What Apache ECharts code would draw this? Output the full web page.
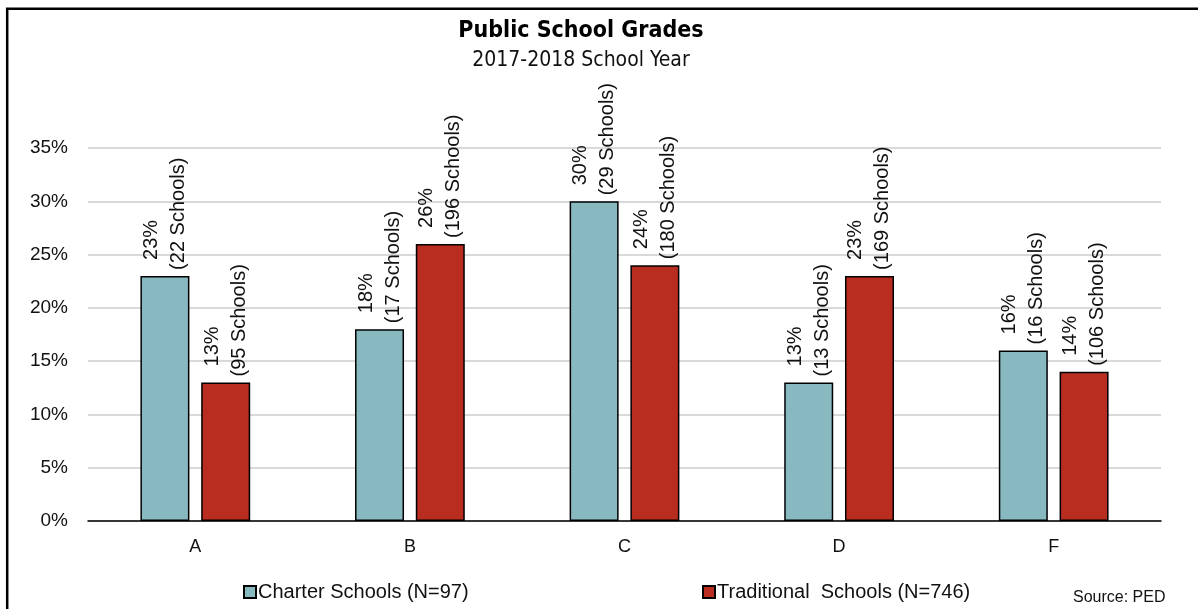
<!DOCTYPE html>
<html>
<head>
<meta charset="utf-8">
<title>Public School Grades</title>
<script src="https://cdn.jsdelivr.net/npm/echarts@6/dist/echarts.min.js"></script>
<style>
  html, body { margin: 0; padding: 0; background: #ffffff; }
  #chart { width: 1198px; height: 609px; }
</style>
</head>
<body>
<div id="chart"></div>
<script>
// Letter grades along the x axis
const grades = ['A', 'B', 'C', 'D', 'F'];

// Share of schools (%) receiving each grade
const charterPct = [23, 18, 30, 13, 16];
const traditionalPct = [13, 26, 24, 23, 14];

// Number of schools receiving each grade
const charterCount = [22, 17, 29, 13, 16];
const traditionalCount = [95, 196, 180, 169, 106];

// Y axis range and step (percent)
const yMax = 35;
const yStep = 5;

const seriesNames = ['Charter Schools (N=97)', 'Traditional  Schools (N=746)'];

const sansFont = '"Liberation Sans", Arial, sans-serif';
const narrowFont = '"Liberation Sans Narrow", "DejaVu Sans Condensed", "Liberation Sans", sans-serif';

function barLabel(counts) {
  return {
    show: true,
    position: 'top',
    rotate: 90,
    align: 'left',
    verticalAlign: 'middle',
    distance: 6,
    fontFamily: sansFont,
    fontSize: 20,
    lineHeight: 27,
    color: '#111111',
    formatter: function (p) {
      return '{pct|' + p.value + '%}\n{cnt|(' + counts[p.dataIndex] + ' Schools)}';
    },
    rich: {
      pct: { fontFamily: sansFont, fontSize: 20, lineHeight: 27, color: '#111111', padding: [0, 0, 0, 10] },
      cnt: { fontFamily: sansFont, fontSize: 20, lineHeight: 27, color: '#111111' }
    }
  };
}

function legendBlock(name, left) {
  return {
    data: [name],
    left: left,
    top: 582,
    padding: 0,
    itemWidth: 12,
    itemHeight: 12,
    itemGap: 0,
    icon: 'rect',
    textStyle: { fontFamily: sansFont, fontSize: 20, color: '#111111', padding: [0, 0, 0, -3] }
  };
}

const chart = echarts.init(document.getElementById('chart'), null, { renderer: 'canvas' });

chart.setOption({
  backgroundColor: '#ffffff',
  animation: false,
  title: [
    {
      text: 'Public School Grades',
      left: 576,
      top: 15,
      textAlign: 'center',
      textStyle: { fontFamily: narrowFont, fontWeight: 'bold', fontSize: 23, color: '#000000' }
    },
    {
      text: '2017-2018 School Year',
      left: 576,
      top: 45,
      textAlign: 'center',
      textStyle: { fontFamily: narrowFont, fontWeight: 'normal', fontSize: 21, color: '#111111' }
    },
    {
      text: 'Source: PED',
      left: 1068,
      top: 585,
      textStyle: { fontFamily: sansFont, fontWeight: 'normal', fontSize: 16, color: '#111111' }
    }
  ],
  legend: [
    legendBlock(seriesNames[0], 243),
    legendBlock(seriesNames[1], 702)
  ],
  grid: {
    left: 88,
    right: 37,
    top: 148,
    bottom: 88
  },
  xAxis: {
    type: 'category',
    data: grades,
    axisLine: { show: true, lineStyle: { color: '#000000', width: 1.5 } },
    axisTick: { show: false },
    axisLabel: { fontFamily: sansFont, fontSize: 18, color: '#111111', margin: 17 }
  },
  yAxis: {
    type: 'value',
    min: 0,
    max: yMax,
    interval: yStep,
    axisLine: { show: false },
    axisTick: { show: false },
    axisLabel: {
      fontFamily: sansFont,
      fontSize: 19,
      color: '#111111',
      margin: 20,
      formatter: '{value}%'
    },
    splitLine: { show: true, lineStyle: { color: '#d9d9d9', width: 2 } }
  },
  series: [
    {
      name: seriesNames[0],
      type: 'bar',
      data: charterPct,
      barWidth: 49,
      barGap: '24%',
      itemStyle: { color: '#88b9c1', borderColor: '#000000', borderWidth: 1.5 },
      label: barLabel(charterCount)
    },
    {
      name: seriesNames[1],
      type: 'bar',
      data: traditionalPct,
      barWidth: 49,
      barGap: '24%',
      itemStyle: { color: '#b92d20', borderColor: '#000000', borderWidth: 1.5 },
      label: barLabel(traditionalCount)
    }
  ],
  graphic: [
    {
      // frame around the chart
      type: 'rect',
      silent: true,
      shape: { x: 7.2, y: 8.7, width: 1300, height: 800 },
      style: { fill: 'none', stroke: '#000000', lineWidth: 2.5 }
    }
  ]
});
</script>
</body>
</html>
